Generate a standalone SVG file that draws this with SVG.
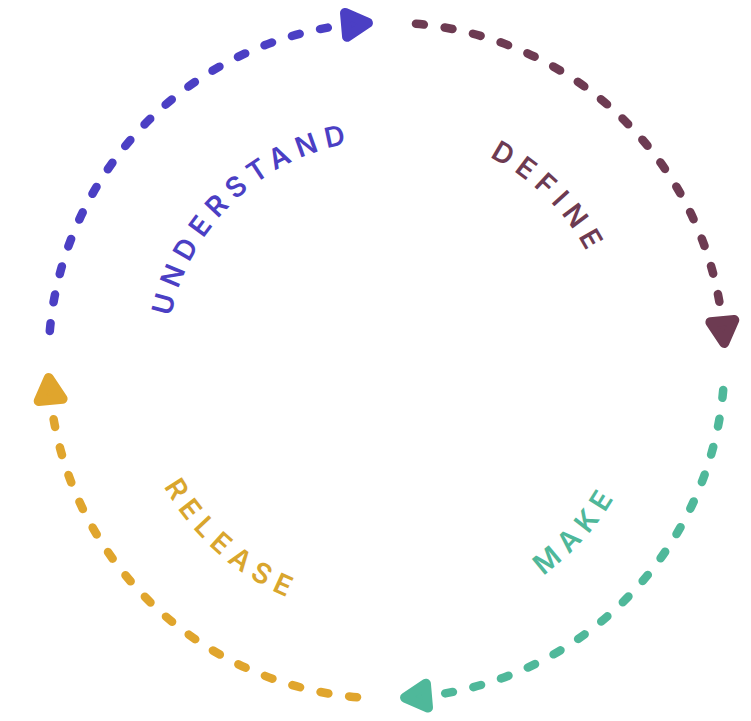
<svg xmlns="http://www.w3.org/2000/svg" xmlns:xlink="http://www.w3.org/1999/xlink" width="751" height="721" viewBox="0 0 751 721">
  <style>
    .arc { fill: none; stroke-width: 8.5; stroke-linecap: round; stroke-dasharray: 8 20.96; }
    .head { stroke-width: 10; stroke-linejoin: round; }
    .lbl { font-family: Inter, "Open Sans", "Liberation Sans", sans-serif; font-size: 28px; font-weight: 600; letter-spacing: 7.5px; }
    .blue { stroke: #4B3FC4; fill: #4B3FC4; }
    .plum { stroke: #6D3B52; fill: #6D3B52; }
    .teal { stroke: #4FB89A; fill: #4FB89A; }
    .gold { stroke: #E0A52D; fill: #E0A52D; }
  </style>
  <defs>
    <path id="ah" d="M-10,-12 L12,0 L-10,12 Z"/>
    <path id="tp-understand" d="M172.58,411.86 A220,220 0 0 1 448.98,149.56"/>
    <path id="tp-define" d="M327.49,140.27 A228,228 0 0 1 606.73,419.51"/>
    <path id="tp-make" d="M332.10,620.88 A266,266 0 0 0 639.19,277.42"/>
    <path id="tp-release" d="M134.5,312 A260,260 0 0 0 470.5,606"/>
  </defs>
  <rect width="751" height="721" fill="#ffffff"/>
  <g id="connectors">
    <path class="arc blue" style="fill:none" d="M49.79,331.04 A338,338 0 0 1 327.81,27.63"/>
    <use xlink:href="#ah" class="head blue" transform="translate(356,24) rotate(-5)"/>
    <path class="arc plum" style="fill:none" d="M415.96,23.79 A338,338 0 0 1 719.37,301.81"/>
    <use xlink:href="#ah" class="head plum" transform="translate(723.21,331.04) rotate(85)"/>
    <path class="arc teal" style="fill:none" d="M723.21,389.96 A338,338 0 0 1 445.19,693.37"/>
    <use xlink:href="#ah" class="head teal" transform="translate(417,696.5) rotate(175)"/>
    <path class="arc gold" style="fill:none" d="M357.04,697.21 A338,338 0 0 1 53.63,419.19"/>
    <use xlink:href="#ah" class="head gold" transform="translate(49.79,389.96) rotate(265)"/>
  </g>
  <g id="understand">
    <text class="lbl" fill="#4B3FC4" text-anchor="middle"><textPath xlink:href="#tp-understand" startOffset="50%">UNDERSTAND</textPath></text>
  </g>
  <g id="define">
    <text class="lbl" fill="#6D3B52" text-anchor="middle"><textPath xlink:href="#tp-define" startOffset="50%">DEFINE</textPath></text>
  </g>
  <g id="make">
    <text class="lbl" fill="#4FB89A" text-anchor="middle"><textPath xlink:href="#tp-make" startOffset="50%">MAKE</textPath></text>
  </g>
  <g id="release">
    <text class="lbl" fill="#D9A62E" text-anchor="middle"><textPath xlink:href="#tp-release" startOffset="50%">RELEASE</textPath></text>
  </g>
</svg>
